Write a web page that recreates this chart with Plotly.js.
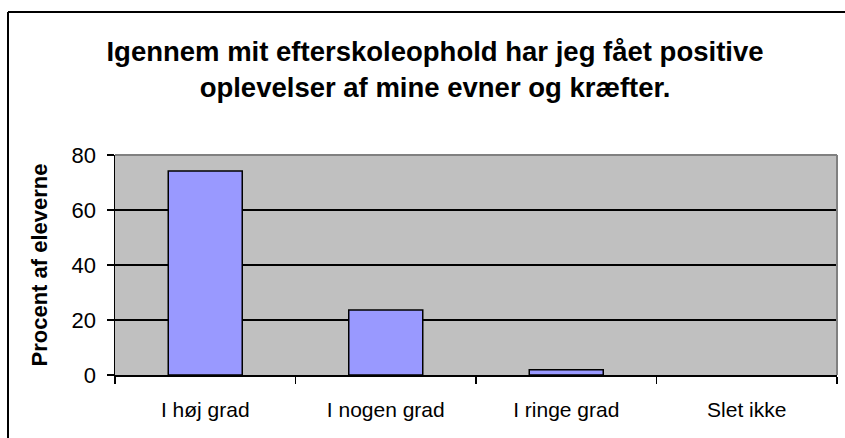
<!DOCTYPE html>
<html>
<head>
<meta charset="utf-8">
<script src="https://cdn.plot.ly/plotly-3.0.1.min.js"></script>
<style>
  html, body { margin: 0; padding: 0; background: #ffffff; }
  #chart { width: 845px; height: 438px; }
</style>
</head>
<body>
<div id="chart"></div>
<script>
// ---- data ----
const categories = ["I høj grad", "I nogen grad", "I ringe grad", "Slet ikke"];
const percentValues = [74.2, 23.6, 1.9, 0];
const yTickValues = [0, 20, 40, 60, 80];
const titleText = "Igennem mit efterskoleophold har jeg fået positive<br>oplevelser af mine evner og kræfter.";
const yTitleText = "Procent af eleverne";

const FONT = "Liberation Sans, Arial, sans-serif";

const trace = {
  type: "bar",
  x: categories,
  y: percentValues,
  width: 0.41,
  marker: {
    color: "#9999FF",
    line: { color: "#000000", width: percentValues.map(v => (v > 0 ? 1.5 : 0)) }
  },
  hoverinfo: "x+y"
};

const layout = {
  width: 845,
  height: 438,
  margin: { l: 115, r: 8, t: 155, b: 63, pad: 0 },
  paper_bgcolor: "#ffffff",
  plot_bgcolor: "#C0C0C0",
  showlegend: false,
  font: { family: FONT, color: "#000000" },
  title: {
    text: titleText,
    font: { family: FONT, size: 27.5, color: "#000000", weight: "bold" },
    x: 435 / 845, xref: "container", xanchor: "center",
    y: 1 - 61 / 438, yref: "container", yanchor: "top"
  },
  xaxis: {
    type: "category",
    showgrid: false,
    showline: true, linecolor: "#000000", linewidth: 1.5,
    ticks: "outside", tickson: "boundaries", ticklen: 7, tickcolor: "#000000", tickwidth: 1.5,
    tickfont: { family: FONT, size: 21, color: "#000000" },
    ticklabelstandoff: 15,
    zeroline: false,
    fixedrange: true
  },
  yaxis: {
    range: [0, 80],
    tickvals: yTickValues,
    ticktext: yTickValues.map(String),
    showgrid: true, gridcolor: "#000000", gridwidth: 1.2,
    showline: true, linecolor: "#000000", linewidth: 1.5,
    ticks: "outside", ticklen: 7, tickcolor: "#000000", tickwidth: 1.5,
    tickfont: { family: FONT, size: 22, color: "#000000" },
    ticklabelstandoff: 6,
    zeroline: false,
    title: { text: yTitleText, font: { family: FONT, size: 22, color: "#000000", weight: "bold" }, standoff: 18 },
    fixedrange: true
  },
  shapes: [
    // plot-area border (top and right, grey)
    { type: "line", xref: "paper", yref: "paper", x0: 0, x1: 1, y0: 1, y1: 1, line: { color: "#808080", width: 2 } },
    { type: "line", xref: "paper", yref: "paper", x0: 1, x1: 1, y0: 0, y1: 1, line: { color: "#808080", width: 2 } },
    // chart-area border (black), top and left edges; the rest lies outside the picture
    { type: "line", xref: "paper", yref: "paper",
      x0: (8 - 115) / 722, x1: (880 - 115) / 722,
      y0: (375 - 12) / 220, y1: (375 - 12) / 220,
      line: { color: "#000000", width: 2 } },
    { type: "line", xref: "paper", yref: "paper",
      x0: (8 - 115) / 722, x1: (8 - 115) / 722,
      y0: (375 - 12) / 220, y1: (375 - 480) / 220,
      line: { color: "#000000", width: 2 } }
  ]
};

Plotly.newPlot("chart", [trace], layout, { displayModeBar: false, staticPlot: true });
</script>
</body>
</html>
